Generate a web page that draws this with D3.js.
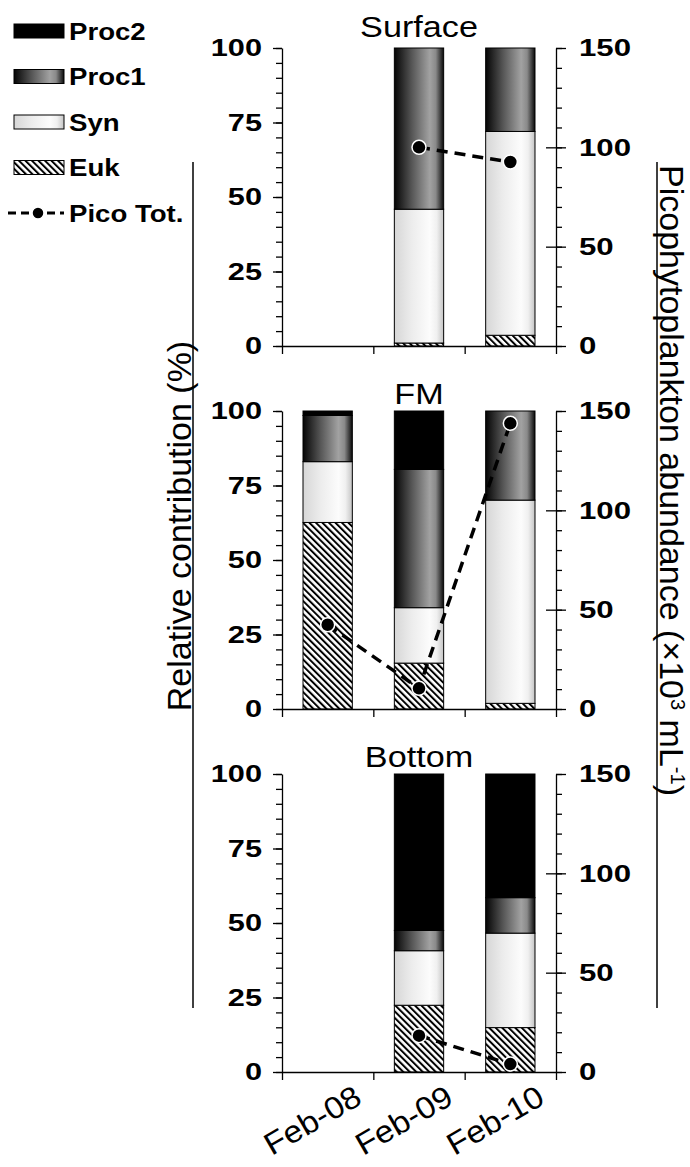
<!DOCTYPE html>
<html>
<head>
<meta charset="utf-8">
<script src="https://cdn.jsdelivr.net/npm/d3@7"></script>
<style>
  html, body { margin: 0; padding: 0; background: #fff; }
  svg { display: block; font-family: "Liberation Sans", Arial, sans-serif; }
</style>
</head>
<body>
<svg id="chart" width="690" height="1167"></svg>
<script>
// data
const dates = ["Feb-08", "Feb-09", "Feb-10"];
const depths = ["Surface", "FM", "Bottom"];
const euk   = [[null, 1.0, 3.6],  [62.6, 15.4, 1.9],  [null, 22.4, 14.9]];
const syn   = [[null, 44.9, 68.4], [20.4, 18.6, 68.2], [null, 18.3, 31.7]];
const proc1 = [[null, 54.1, 28.0], [15.5, 46.4, 29.9], [null, 6.8, 11.9]];
const proc2 = [[null, 0, 0],       [1.5, 19.6, 0],     [null, 52.5, 41.5]];
const picoTot = [[null, 100, 92.6], [42.4, 10.4, 143.8], [null, 18.3, 4.0]];
const leftTicks = [0, 25, 50, 75, 100];
const rightTicks = [0, 50, 100, 150];
const seriesKeys = ["Euk", "Syn", "Proc1", "Proc2"];
const legendKeys = ["Proc2", "Proc1", "Syn", "Euk"];

const svg = d3.select("#chart");
const left = 282, right = 556;
const panelTop = [48, 411, 774];
const panelH = 298;
const titleGap = [11, 7, 7];

// fills
const defs = svg.append("defs");
const gP1 = defs.append("linearGradient").attr("id", "gProc1");
[[0, "#050505"], [0.35, "#555"], [0.72, "#a2a2a2"], [0.84, "#8a8a8a"], [1, "#0a0a0a"]]
  .forEach(s => gP1.append("stop").attr("offset", s[0]).attr("stop-color", s[1]));
const gSyn = defs.append("linearGradient").attr("id", "gSyn");
[[0, "#d6d6d6"], [0.35, "#ececec"], [0.72, "#fcfcfc"], [0.86, "#f0f0f0"], [1, "#c4c4c4"]]
  .forEach(s => gSyn.append("stop").attr("offset", s[0]).attr("stop-color", s[1]));
const hatch = defs.append("pattern").attr("id", "hatch")
  .attr("patternUnits", "userSpaceOnUse").attr("width", 4.6).attr("height", 4.6)
  .attr("patternTransform", "rotate(-45)");
hatch.append("rect").attr("width", 4.6).attr("height", 4.6).attr("fill", "#fff");
hatch.append("line").attr("x1", 1).attr("x2", 1).attr("y1", 0).attr("y2", 4.6)
  .attr("stroke", "#000").attr("stroke-width", 2);

const fills = { Proc2: "#000", Proc1: "url(#gProc1)", Syn: "url(#gSyn)", Euk: "url(#hatch)" };

const x = d3.scaleBand().domain(dates).range([left, right]).padding(0);
const xEdge = d3.scaleLinear().domain([0, dates.length]).range([left, right]);
const barW = x.bandwidth() * 0.54;
const cx = d => x(d) + x.bandwidth() / 2;

depths.forEach((depth, p) => {
  const top = panelTop[p], bottom = top + panelH;
  const y = d3.scaleLinear().domain([0, 100]).range([bottom, top]);
  const yR = d3.scaleLinear().domain([0, 150]).range([bottom, top]);
  const g = svg.append("g");

  // stacked bars
  const rows = dates.map((d, i) => ({
    date: d, Euk: euk[p][i], Syn: syn[p][i], Proc1: proc1[p][i], Proc2: proc2[p][i]
  })).filter(r => r.Euk != null);
  const stacked = d3.stack().keys(seriesKeys)(rows);
  stacked.forEach(s => {
    g.selectAll(null).data(s.filter(v => v[1] - v[0] > 0)).enter().append("rect")
      .attr("x", v => cx(v.data.date) - barW / 2)
      .attr("y", v => y(v[1]))
      .attr("width", barW)
      .attr("height", v => y(v[0]) - y(v[1]))
      .attr("fill", fills[s.key])
      .attr("stroke", "#000").attr("stroke-width", 1);
  });

  // left axis
  const ax = g.append("g").attr("transform", `translate(${left},0)`)
    .call(d3.axisLeft(y).tickValues(leftTicks).tickSize(9).tickSizeOuter(0));
  g.append("g").attr("transform", `translate(${left},0)`)
    .call(d3.axisLeft(y).tickValues(d3.range(0, 101, 5)).tickSize(6).tickSizeOuter(0).tickFormat(""))
    .select(".domain").remove();
  ax.selectAll("text").attr("x", null)
    .attr("transform", "translate(-20,0) scale(1.28,1)")
    .attr("font-size", 24).attr("font-weight", "bold").attr("fill", "#000")
    .attr("font-family", "Liberation Sans, Arial, sans-serif");

  // right axis
  const axR = g.append("g").attr("transform", `translate(${right},0)`)
    .call(d3.axisRight(yR).tickValues(rightTicks).tickSize(10).tickSizeOuter(0));
  axR.selectAll(".tick").filter(v => v > 0 && v < 150).append("line")
    .attr("x2", -10).attr("stroke", "#000");
  g.append("g").attr("transform", `translate(${right},0)`)
    .call(d3.axisRight(yR).tickValues(d3.range(0, 151, 10)).tickSize(6).tickSizeOuter(0).tickFormat(""))
    .select(".domain").remove();
  axR.selectAll("text").attr("x", null)
    .attr("transform", "translate(23,0) scale(1.3,1)")
    .attr("font-size", 24).attr("font-weight", "bold").attr("fill", "#000")
    .attr("font-family", "Liberation Sans, Arial, sans-serif");

  // x axis (ticks on category edges)
  g.append("g").attr("transform", `translate(0,${bottom})`)
    .call(d3.axisBottom(xEdge).tickValues(d3.range(0, dates.length + 1)).tickSize(8).tickSizeOuter(0).tickFormat(""));

  g.selectAll(".domain, .tick line").attr("stroke", "#000").attr("stroke-width", 1.3);

  // total abundance line
  const pts = dates.map((d, i) => ({ date: d, v: picoTot[p][i] })).filter(o => o.v != null);
  g.append("path").datum(pts)
    .attr("d", d3.line().x(o => cx(o.date)).y(o => yR(o.v)))
    .attr("fill", "none").attr("stroke", "#000").attr("stroke-width", 3.5)
    .attr("stroke-dasharray", "11,7");
  g.selectAll(null).data(pts).enter().append("circle")
    .attr("cx", o => cx(o.date)).attr("cy", o => yR(o.v)).attr("r", 7)
    .attr("fill", "#000").attr("stroke", "#fff").attr("stroke-width", 1.5);

  // panel title
  g.append("text").attr("text-anchor", "middle")
    .attr("transform", `translate(${(left + right) / 2},${top - titleGap[p]}) scale(1.14,1)`)
    .attr("font-size", 30).text(depth);

  if (p === depths.length - 1) {
    g.selectAll(null).data(dates).enter().append("text")
      .attr("text-anchor", "end").attr("font-size", 31)
      .attr("transform", d => `translate(${cx(d) + 36},${bottom + 31}) rotate(-30) scale(1.08,1)`)
      .text(d => d);
  }
});

// axis titles and their side rules
svg.append("line").attr("x1", 193).attr("x2", 193).attr("y1", 162).attr("y2", 1008)
  .attr("stroke", "#000").attr("stroke-width", 1.5);
svg.append("line").attr("x1", 657).attr("x2", 657).attr("y1", 162).attr("y2", 1008)
  .attr("stroke", "#000").attr("stroke-width", 1.5);
svg.append("text").attr("text-anchor", "middle").attr("font-size", 34)
  .attr("transform", "translate(191,526) rotate(-90)")
  .text("Relative contribution (%)");
const rt = svg.append("text").attr("text-anchor", "start").attr("font-size", 34)
  .attr("transform", "translate(660,165) rotate(90)");
rt.append("tspan").text("Picophytoplankton abundance (×10");
rt.append("tspan").attr("font-size", 20).attr("dy", -11).text("3");
rt.append("tspan").attr("dy", 11).text(" mL");
rt.append("tspan").attr("font-size", 20).attr("dy", -11).text("-1");
rt.append("tspan").attr("dy", 11).text(")");

// legend
const lg = svg.append("g");
legendKeys.forEach((k, i) => {
  const cy = 31 + i * 45.5;
  lg.append("rect").attr("x", 14).attr("y", cy - 7).attr("width", 50).attr("height", 14)
    .attr("fill", fills[k]).attr("stroke", "#000").attr("stroke-width", 1);
  lg.append("text").attr("transform", `translate(69,${cy}) scale(1.15,1)`)
    .attr("dy", "0.36em").attr("font-size", 24).attr("font-weight", "bold").text(k);
});
const py = 31 + 4 * 45.5;
lg.append("line").attr("x1", 8).attr("x2", 64).attr("y1", py).attr("y2", py)
  .attr("stroke", "#000").attr("stroke-width", 3.2).attr("stroke-dasharray", "8,5");
lg.append("circle").attr("cx", 38).attr("cy", py).attr("r", 6)
  .attr("fill", "#000").attr("stroke", "#fff").attr("stroke-width", 1.5);
lg.append("text").attr("transform", `translate(69,${py}) scale(1.15,1)`)
  .attr("dy", "0.36em").attr("font-size", 24).attr("font-weight", "bold").text("Pico Tot.");
</script>
</body>
</html>
